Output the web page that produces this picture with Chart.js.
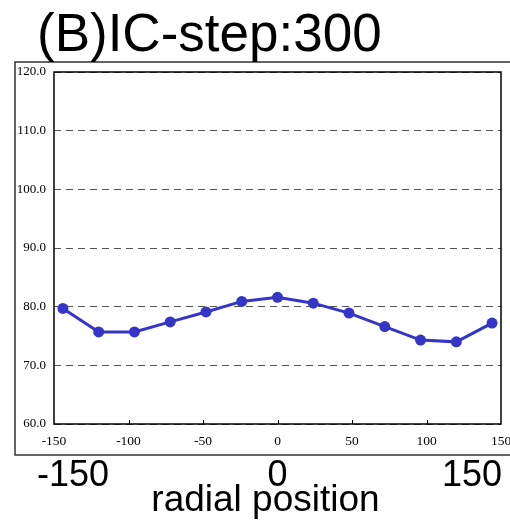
<!DOCTYPE html>
<html>
<head>
<meta charset="utf-8">
<script src="https://cdn.jsdelivr.net/npm/chart.js@4.4.0/dist/chart.umd.min.js"></script>
<style>
  html, body { margin: 0; padding: 0; background: #fff; }
  #wrap { width: 510px; height: 522px; position: relative; }
</style>
</head>
<body>
<div id="wrap"><canvas id="c" width="510" height="522"></canvas></div>
<script>
// IC profile along the radial direction at step 300
const radialPositions = [-144, -120, -96, -72, -48, -24, 0, 24, 48, 72, 96, 120, 144];
const icValues = [79.7, 75.7, 75.7, 77.4, 79.1, 80.9, 81.6, 80.6, 78.9, 76.6, 74.3, 74.0, 77.2];

const xTickValues = [-150, -100, -50, 0, 50, 100, 150];
const yTickValues = [60, 70, 80, 90, 100, 110, 120];
const outerTickValues = [-150, 0, 150];

const chartTitle = '(B)IC-step:300';
const axisTitle = 'radial position';

const SANS = '"Liberation Sans", Arial, sans-serif';
const SERIF = '"Liberation Serif", "Times New Roman", serif';

// Frame, inward tick marks, title and the large outer axis labels
const decorations = {
  id: 'decorations',
  beforeDraw(chart) {
    const ctx = chart.ctx;
    ctx.save();
    ctx.fillStyle = '#fff';
    ctx.fillRect(0, 0, chart.width, chart.height);
    ctx.restore();
  },
  beforeDatasetsDraw(chart) {
    const { ctx, chartArea: a, scales: { x } } = chart;
    ctx.save();
    ctx.strokeStyle = '#000';
    ctx.lineWidth = 1.5;
    ctx.setLineDash([]);
    ctx.strokeRect(a.left, a.top, a.right - a.left, a.bottom - a.top);
    ctx.lineWidth = 1;
    xTickValues.slice(1, -1).forEach(v => {
      const px = Math.round(x.getPixelForValue(v)) + 0.5;
      ctx.beginPath();
      ctx.moveTo(px, a.bottom);
      ctx.lineTo(px, a.bottom - 4);
      ctx.stroke();
    });
    ctx.restore();
  },
  afterDraw(chart) {
    const { ctx, chartArea: a, scales: { x } } = chart;
    const frameLeft = chart.options.layout.padding.left;
    const frameTop = 62;
    const frameBottom = x.bottom;
    ctx.save();
    // outer panel frame
    ctx.strokeStyle = '#333';
    ctx.lineWidth = 1.5;
    ctx.beginPath();
    ctx.moveTo(chart.width, frameTop);
    ctx.lineTo(frameLeft, frameTop);
    ctx.lineTo(frameLeft, frameBottom);
    ctx.lineTo(chart.width, frameBottom);
    ctx.stroke();

    // panel title
    ctx.fillStyle = '#000';
    ctx.font = '53px ' + SANS;
    ctx.textAlign = 'left';
    ctx.textBaseline = 'alphabetic';
    ctx.fillText(chartTitle, 37, 51);

    // large outer axis labels
    ctx.font = '36px ' + SANS;
    outerTickValues.forEach((v, i) => {
      const px = x.getPixelForValue(v);
      let tx = px, align = 'center';
      if (i === 0) { align = 'left'; tx = px - 17; }
      else if (i === outerTickValues.length - 1) { align = 'right'; tx = px + 1; }
      ctx.textAlign = align;
      ctx.fillText(String(v), tx, 486);
    });

    // axis title
    ctx.font = '37px ' + SANS;
    ctx.textAlign = 'center';
    ctx.fillText(axisTitle, (a.left + a.right) / 2 - 12, 511);
    ctx.restore();
  }
};

new Chart(document.getElementById('c'), {
  type: 'line',
  data: {
    datasets: [{
      data: radialPositions.map((r, i) => ({ x: r, y: icValues[i] })),
      borderColor: '#3535c8',
      backgroundColor: '#3535c8',
      borderWidth: 3,
      pointRadius: 5.5,
      pointHoverRadius: 5.5,
      pointBorderWidth: 0,
      pointBackgroundColor: '#3535c8',
      tension: 0,
      clip: false
    }]
  },
  options: {
    responsive: false,
    devicePixelRatio: 1,
    animation: false,
    layout: { padding: { left: 15, right: 9, top: 72, bottom: 67 } },
    plugins: {
      legend: { display: false },
      tooltip: { enabled: false },
      title: { display: false }
    },
    scales: {
      x: {
        type: 'linear',
        min: -150,
        max: 150,
        afterBuildTicks: s => { s.ticks = xTickValues.map(v => ({ value: v })); },
        afterFit: s => { s.height = 31; s.paddingLeft = 0; s.paddingRight = 0; },
        grid: { display: false, drawTicks: false },
        border: { display: false },
        ticks: {
          padding: 9,
          color: '#000',
          font: { family: SERIF, size: 13.5 },
          maxRotation: 0,
          autoSkip: false,
          callback: v => String(v)
        }
      },
      y: {
        min: 60,
        max: 120,
        afterBuildTicks: s => { s.ticks = yTickValues.map(v => ({ value: v })); },
        afterFit: s => { s.width = 39; s.paddingTop = 0; s.paddingBottom = 0; },
        grid: { color: '#555', lineWidth: 1, drawTicks: false },
        border: { display: false, dash: [7, 5] },
        ticks: {
          padding: 8,
          color: '#000',
          font: { family: SERIF, size: 13 },
          autoSkip: false,
          callback: v => Number(v).toFixed(1)
        }
      }
    }
  },
  plugins: [decorations]
});
</script>
</body>
</html>
